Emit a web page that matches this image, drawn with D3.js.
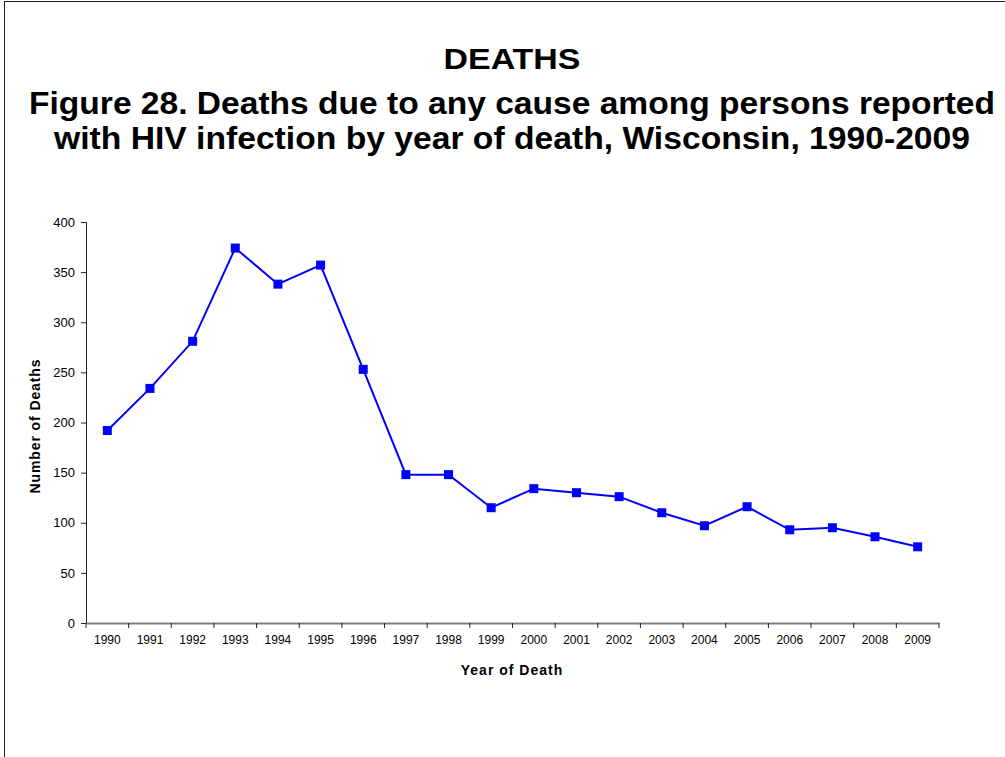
<!DOCTYPE html>
<html>
<head>
<meta charset="utf-8">
<script src="https://cdn.jsdelivr.net/npm/d3@7"></script>
<style>
body { margin: 0; background: #fff; }
text { font-family: Arial, "Liberation Sans", sans-serif; }
</style>
</head>
<body>
<div id="chart"></div>
<script>
// data
var years = ["1990","1991","1992","1993","1994","1995","1996","1997","1998","1999",
             "2000","2001","2002","2003","2004","2005","2006","2007","2008","2009"];
var deaths = [192, 234, 281, 374, 338, 357, 253, 148, 148, 115,
              134, 130, 126, 110, 97, 116, 93, 95, 86, 76];
var yTicks = [0, 50, 100, 150, 200, 250, 300, 350, 400];

var W = 1005, H = 757;
var margin = {top: 222, right: 66, bottom: 134, left: 86},
    width = W - margin.left - margin.right,
    height = H - margin.top - margin.bottom;

var svg = d3.select("#chart").append("svg")
    .attr("width", W)
    .attr("height", H);

// outer frame (right/bottom edges fall outside the picture)
svg.append("rect")
    .attr("x", 4.5).attr("y", 1.5)
    .attr("width", 1100).attr("height", 1000)
    .style("fill", "none")
    .style("stroke", "#222");

// titles
svg.append("text")
    .attr("x", 512).attr("y", 69)
    .style("text-anchor", "middle")
    .style("font-size", "30px").style("font-weight", "bold")
    .attr("textLength", 137).attr("lengthAdjust", "spacingAndGlyphs")
    .text("DEATHS");
svg.append("text")
    .attr("x", 512).attr("y", 114)
    .style("text-anchor", "middle")
    .style("font-size", "32px").style("font-weight", "bold")
    .attr("textLength", 966).attr("lengthAdjust", "spacingAndGlyphs")
    .text("Figure 28. Deaths due to any cause among persons reported");
svg.append("text")
    .attr("x", 512).attr("y", 149)
    .style("text-anchor", "middle")
    .style("font-size", "32px").style("font-weight", "bold")
    .attr("textLength", 916).attr("lengthAdjust", "spacingAndGlyphs")
    .text("with HIV infection by year of death, Wisconsin, 1990-2009");

var g = svg.append("g")
    .attr("transform", "translate(" + margin.left + "," + margin.top + ")");

var x = d3.scaleBand().domain(years).range([0, width]);
var y = d3.scaleLinear().domain([0, 400]).range([height, 0]);

// y axis
var yAxis = g.append("g")
    .call(d3.axisLeft(y).tickValues(yTicks).tickSize(5).tickPadding(6));
yAxis.select(".domain").attr("stroke", "#222");
yAxis.selectAll(".tick line").attr("stroke", "#222");
yAxis.selectAll("text").style("font-size", "13px").attr("fill", "#000");

// x axis: ticks at category boundaries
var xAxis = g.append("g")
    .attr("transform", "translate(0," + height + ")")
    .call(d3.axisBottom(x).tickSize(0).tickPadding(12));
xAxis.select(".domain").attr("stroke", "#808080").attr("stroke-width", 2);
xAxis.selectAll("text").style("font-size", "12px").attr("fill", "#000");
xAxis.selectAll(".bnd")
    .data(years.concat(["end"]))
  .enter().append("line")
    .attr("class", "bnd")
    .attr("x1", function(d, i) { return i * x.step(); })
    .attr("x2", function(d, i) { return i * x.step(); })
    .attr("y1", 0).attr("y2", 5)
    .attr("stroke", "#222");

// axis titles
svg.append("text")
    .attr("x", 512).attr("y", 675)
    .style("text-anchor", "middle")
    .style("font-size", "14px").style("font-weight", "bold")
    .style("letter-spacing", "1px")
    .text("Year of Death");
svg.append("text")
    .attr("transform", "translate(40," + 426 + ") rotate(-90)")
    .style("text-anchor", "middle")
    .style("font-size", "14px").style("font-weight", "bold")
    .style("letter-spacing", "0.9px")
    .text("Number of Deaths");

// line + markers
var cx = function(d, i) { return x(years[i]) + x.bandwidth() / 2; };
var line = d3.line()
    .x(cx)
    .y(function(d) { return y(d); });

g.append("path")
    .datum(deaths)
    .attr("d", line)
    .style("fill", "none")
    .style("stroke", "#0000FF")
    .style("stroke-width", 2);

g.selectAll(".dot")
    .data(deaths)
  .enter().append("rect")
    .attr("class", "dot")
    .attr("x", function(d, i) { return cx(d, i) - 4.5; })
    .attr("y", function(d) { return y(d) - 4.5; })
    .attr("width", 9).attr("height", 9)
    .style("fill", "#0000FF");
</script>
</body>
</html>
